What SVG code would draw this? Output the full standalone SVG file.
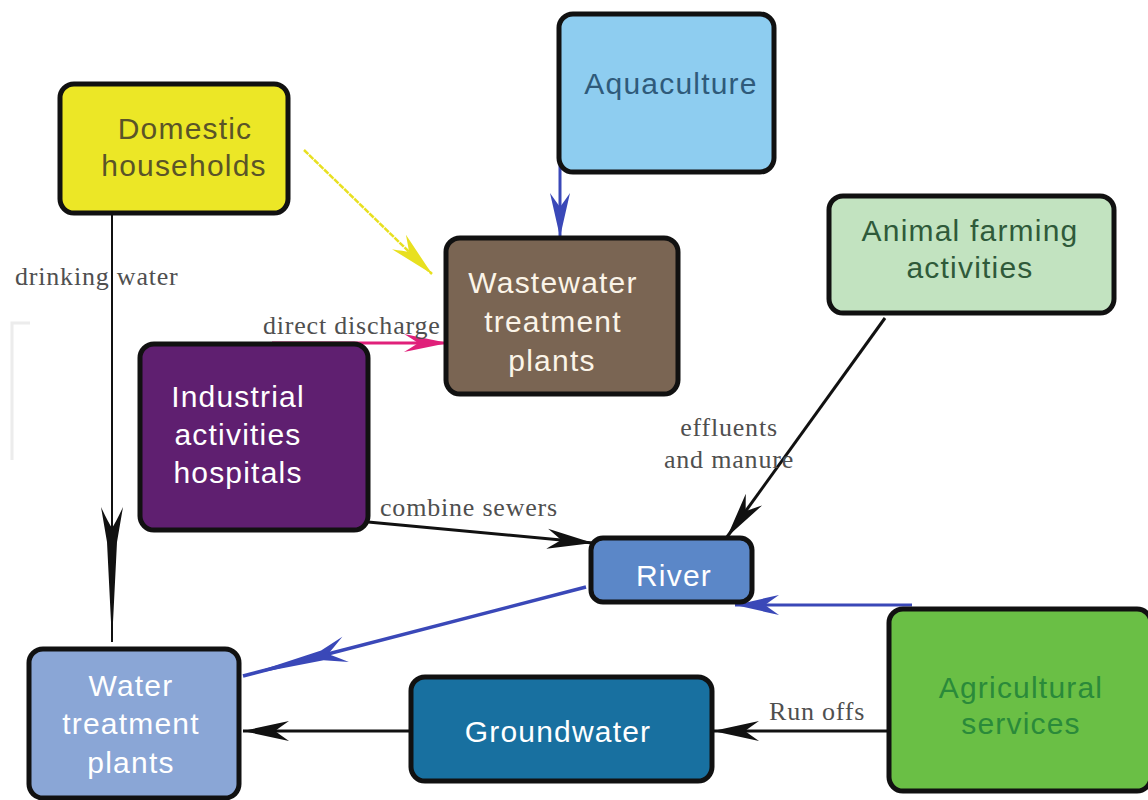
<svg xmlns="http://www.w3.org/2000/svg" width="1148" height="800" viewBox="0 0 1148 800">
<style>
.box{stroke:#111;stroke-width:5}
.nt{font-family:"Liberation Sans",Arial,sans-serif;font-size:30px;letter-spacing:1.2px;text-anchor:middle}
.lb{font-family:"Liberation Serif","Times New Roman",serif;font-size:26px;letter-spacing:0.8px;fill:#4f4f4f}
.c{fill:none}
</style>
<defs>
<marker id="aK" markerUnits="userSpaceOnUse" viewBox="-50 -12 52 24" refX="0" refY="0" markerWidth="52" markerHeight="24" orient="auto">
<path d="M0,0 L-46,-10 Q-36,-3 -32,0 Q-36,3 -46,10 Z" fill="#111"/>
</marker>
<marker id="aB" markerUnits="userSpaceOnUse" viewBox="-50 -12 52 24" refX="0" refY="0" markerWidth="52" markerHeight="24" orient="auto">
<path d="M0,0 L-44,-10 Q-34,-3 -30,0 Q-34,3 -44,10 Z" fill="#3a48b8"/>
</marker>
<marker id="aP" markerUnits="userSpaceOnUse" viewBox="-50 -12 52 24" refX="0" refY="0" markerWidth="52" markerHeight="24" orient="auto">
<path d="M0,0 L-44,-9 Q-34,-3 -30,0 Q-34,3 -44,9 Z" fill="#e0207a"/>
</marker>
<marker id="aY" markerUnits="userSpaceOnUse" viewBox="-50 -12 52 24" refX="0" refY="0" markerWidth="52" markerHeight="24" orient="auto">
<path d="M0,0 L-46,-10 Q-36,-3 -32,0 Q-36,3 -46,10 Z" fill="#e8e020"/>
</marker>
<marker id="aLK" markerUnits="userSpaceOnUse" viewBox="-140 -12 142 24" refX="0" refY="0" markerWidth="142" markerHeight="24" orient="auto">
<path d="M0,0 L-100,-5 L-135,-11 Q-120,-4 -114,0 Q-120,4 -135,11 L-100,5 Z" fill="#111"/>
</marker>
<marker id="aLB" markerUnits="userSpaceOnUse" viewBox="-112 -14 114 28" refX="0" refY="0" markerWidth="114" markerHeight="28" orient="auto">
<path d="M0,0 L-82,-5 L-106,-13 Q-94,-4 -88,0 Q-94,4 -106,13 L-82,5 Z" fill="#3a48b8"/>
</marker>
</defs>
<rect width="1148" height="800" fill="#fff"/>
<path d="M12,460 V323 H30" fill="none" stroke="#ececec" stroke-width="3"/>

<g id="connectors">
<path class="c" d="M112,213 V642" stroke="#111" stroke-width="2" marker-end="url(#aLK)"/>
<path class="c" d="M304,150 L432,274" stroke="#e8e020" stroke-width="2.5" stroke-dasharray="6,1" marker-end="url(#aY)"/>
<path class="c" d="M560,110 V237" stroke="#3a48b8" stroke-width="3" marker-end="url(#aB)"/>
<path class="c" d="M272,343 H448" stroke="#e0207a" stroke-width="3" marker-end="url(#aP)"/>
<path class="c" d="M368,522 L593,543" stroke="#111" stroke-width="3" marker-end="url(#aK)"/>
<path class="c" d="M885,318 L727,537" stroke="#111" stroke-width="3" marker-end="url(#aK)"/>
<path class="c" d="M912,605 H735" stroke="#3a48b8" stroke-width="3" marker-end="url(#aB)"/>
<path class="c" d="M586,587 L243,676" stroke="#3a48b8" stroke-width="3.5" marker-end="url(#aLB)"/>
<path class="c" d="M888,731 H713" stroke="#111" stroke-width="3" marker-end="url(#aK)"/>
<path class="c" d="M410,731 H243" stroke="#111" stroke-width="3" marker-end="url(#aK)"/>
<text class="lb" x="15" y="285">drinking water</text>
<text class="lb" x="263" y="334">direct discharge</text>
<text class="lb" x="729" y="436" text-anchor="middle">effluents</text>
<text class="lb" x="729" y="468" text-anchor="middle">and manure</text>
<text class="lb" x="380" y="516">combine sewers</text>
<text class="lb" x="769" y="720">Run offs</text>
</g>

<g id="domestic">
<rect class="box" x="60" y="84" width="228" height="129" rx="14" fill="#ece726"/>
<text class="nt" x="185" y="139" fill="#5a5428">Domestic</text>
<text class="nt" x="184" y="176" fill="#5a5428">households</text>
</g>
<g id="aquaculture">
<rect class="box" x="559" y="14" width="215" height="158" rx="14" fill="#8ecdf0"/>
<text class="nt" x="671" y="94" fill="#2f5a7a">Aquaculture</text>
</g>
<g id="wastewater">
<rect class="box" x="446" y="238" width="232" height="156" rx="14" fill="#7a6553"/>
<text class="nt" x="553" y="293" fill="#fbf4e8">Wastewater</text>
<text class="nt" x="553" y="332" fill="#fbf4e8">treatment</text>
<text class="nt" x="552" y="371" fill="#fbf4e8">plants</text>
</g>
<g id="animal">
<rect class="box" x="829" y="196" width="285" height="117" rx="14" fill="#c2e3c0"/>
<text class="nt" x="970" y="241" fill="#2f5a3a">Animal farming</text>
<text class="nt" x="970" y="278" fill="#2f5a3a">activities</text>
</g>
<g id="industrial">
<rect class="box" x="140" y="344" width="228" height="186" rx="14" fill="#5f1f70"/>
<text class="nt" x="238" y="407" fill="#fff">Industrial</text>
<text class="nt" x="238" y="445" fill="#fff">activities</text>
<text class="nt" x="238" y="483" fill="#fff">hospitals</text>
</g>
<g id="river">
<rect class="box" x="591" y="538" width="161" height="64" rx="12" fill="#5b87c8"/>
<text class="nt" x="674" y="586" fill="#fff">River</text>
</g>
<g id="watertreatment">
<rect class="box" x="29" y="649" width="210" height="149" rx="14" fill="#8aa6d6"/>
<text class="nt" x="131" y="696" fill="#fff">Water</text>
<text class="nt" x="131" y="734" fill="#fff">treatment</text>
<text class="nt" x="131" y="773" fill="#fff">plants</text>
</g>
<g id="groundwater">
<rect class="box" x="411" y="677" width="301" height="104" rx="14" fill="#1870a0"/>
<text class="nt" x="558" y="742" fill="#fff">Groundwater</text>
</g>
<g id="agricultural">
<rect class="box" x="889" y="609" width="262" height="182" rx="14" fill="#6abf45"/>
<text class="nt" x="1021" y="698" fill="#2a8a3a">Agricultural</text>
<text class="nt" x="1021" y="734" fill="#2a8a3a">services</text>
</g>
</svg>
